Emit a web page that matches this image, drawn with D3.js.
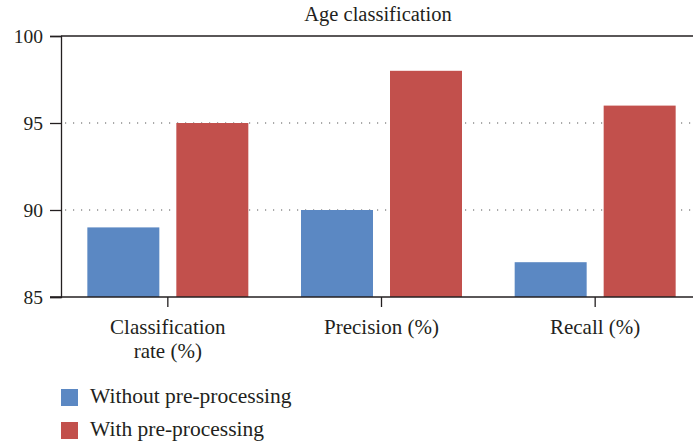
<!DOCTYPE html>
<html>
<head>
<meta charset="utf-8">
<script src="https://cdn.jsdelivr.net/npm/d3@7"></script>
<style>
  body { margin: 0; background: #fff; }
  text { font-family: "Liberation Serif", "DejaVu Serif", serif; fill: #231f20; }
</style>
</head>
<body>
<svg id="chart" width="693" height="446"></svg>
<script>
const categories = ['Classification rate (%)', 'Precision (%)', 'Recall (%)']
const catLines = [['Classification', 'rate (%)'], ['Precision (%)'], ['Recall (%)']]
const series = ['Without pre-processing', 'With pre-processing']
const withoutValues = [89, 90, 87]
const withValues = [95, 98, 96]
const yTicks = [85, 90, 95, 100]
const colors = ['#5b88c3', '#c2504c']

const svg = d3.select('#chart')

const margin = { left: 61, top: 36, bottom: 297, right: 702 }

const x = d3.scaleBand()
    .domain(categories)
    .range([margin.left, margin.right])

const xSub = d3.scaleBand()
    .domain(series)
    .range([0, x.bandwidth()])
    .paddingInner(0.191)
    .paddingOuter(0.296)

const y = d3.scaleLinear()
    .domain([85, 100])
    .range([margin.bottom, margin.top])

// dotted grid
svg.append('g')
    .selectAll('line')
    .data([90, 95])
    .enter().append('line')
    .attr('x1', margin.left + 4)
    .attr('x2', 693)
    .attr('y1', d => y(d))
    .attr('y2', d => y(d))
    .attr('stroke', '#555')
    .attr('stroke-width', 1)
    .attr('stroke-dasharray', '1.2 6.8')

// bars
const valueSets = [withoutValues, withValues]
series.forEach((s, i) => {
    svg.append('g')
        .selectAll('rect')
        .data(categories)
        .enter().append('rect')
        .attr('x', d => x(d) + xSub(s))
        .attr('width', xSub.bandwidth())
        .attr('y', (d, j) => y(valueSets[i][j]))
        .attr('height', (d, j) => y(85) - y(valueSets[i][j]))
        .attr('fill', colors[i])
})

// y axis
const yAxis = svg.append('g')
    .attr('transform', `translate(${margin.left},0)`)
    .call(d3.axisLeft(y).tickValues(yTicks).tickSize(11).tickPadding(7).tickFormat(d3.format('d')))
yAxis.select('.domain').attr('stroke', '#231f20').attr('stroke-width', 1.3)
yAxis.selectAll('.tick line').attr('stroke', '#231f20').attr('stroke-width', 1.3)
yAxis.selectAll('.tick text').attr('font-size', 19.5).attr('fill', '#231f20')
    .style('font-family', '"Liberation Serif", serif')

// top line at 100
svg.append('line')
    .attr('x1', margin.left).attr('x2', 693)
    .attr('y1', y(100)).attr('y2', y(100))
    .attr('stroke', '#231f20').attr('stroke-width', 1.3)

// x axis
const xAxis = svg.append('g')
    .attr('transform', `translate(0,${margin.bottom})`)
    .call(d3.axisBottom(x).tickSize(10).tickFormat(''))
xAxis.select('.domain').remove()
xAxis.selectAll('.tick line').attr('stroke', '#231f20').attr('stroke-width', 1.3)
svg.append('line')
    .attr('x1', 50).attr('x2', 693)
    .attr('y1', margin.bottom).attr('y2', margin.bottom)
    .attr('stroke', '#231f20').attr('stroke-width', 1.3)

// category labels
categories.forEach((c, i) => {
    const t = svg.append('text')
        .attr('x', x(c) + x.bandwidth() / 2)
        .attr('y', 334)
        .attr('text-anchor', 'middle')
        .attr('font-size', 21)
    catLines[i].forEach((line, k) => {
        t.append('tspan')
            .attr('x', x(c) + x.bandwidth() / 2)
            .attr('dy', k === 0 ? 0 : 24)
            .text(line)
    })
})

// title
svg.append('text')
    .attr('x', 378)
    .attr('y', 21)
    .attr('text-anchor', 'middle')
    .attr('font-size', 20.5)
    .text('Age classification')

// legend
const legend = svg.append('g')
    .selectAll('g')
    .data(series)
    .enter().append('g')
    .attr('transform', (d, i) => `translate(61,${389 + i * 33})`)
legend.append('rect')
    .attr('width', 17).attr('height', 17)
    .attr('fill', (d, i) => colors[i])
legend.append('text')
    .attr('x', 29)
    .attr('y', 14)
    .attr('font-size', 21.5)
    .text(d => d)
</script>
</body>
</html>
